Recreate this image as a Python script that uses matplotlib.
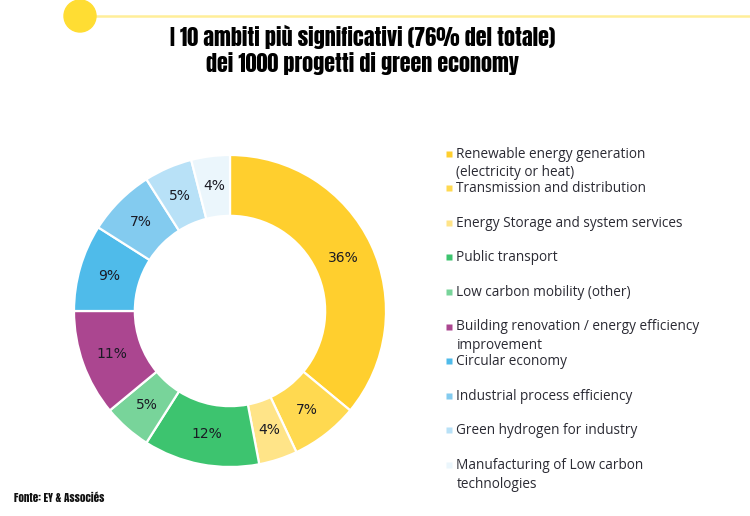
import matplotlib
matplotlib.use("Agg")
import matplotlib.pyplot as plt
from matplotlib.patches import Circle

W, H = 750, 516

categories = [
    "Renewable energy generation\n(electricity or heat)",
    "Transmission and distribution",
    "Energy Storage and system services",
    "Public transport",
    "Low carbon mobility (other)",
    "Building renovation / energy efficiency\nimprovement",
    "Circular economy",
    "Industrial process efficiency",
    "Green hydrogen for industry",
    "Manufacturing of Low carbon\ntechnologies",
]
shares = [36, 7, 4, 12, 5, 11, 9, 7, 5, 4]
colors = ["#FFCF2E", "#FFD950", "#FFE488", "#3DC46F", "#78D49A",
          "#AB4690", "#4FBBEA", "#83CBEF", "#B8E1F7", "#EBF6FC"]
title = "I 10 ambiti più significativi (76% del totale)\ndei 1000 progetti di green economy"
source = "Fonte: EY & Associés"

condensed = ["Anton", "Liberation Sans Narrow", "DejaVu Sans"]

fig = plt.figure(figsize=(W / 100, H / 100), dpi=100)

# overlay in pixel coordinates, y going down
bg = fig.add_axes([0, 0, 1, 1])
bg.set_xlim(0, W)
bg.set_ylim(H, 0)
bg.set_aspect("equal")
bg.axis("off")

bg.plot([90, W], [16, 16], color="#FFEE99", lw=1.8, solid_capstyle="butt")
bg.add_patch(Circle((80, 16), 16, color="#FFDD33", zorder=3))

bg.text(363, 49.5, title, ha="center", va="center", fontsize=15.9,
        family=condensed, color="black", linespacing=1.15)
bg.text(14, 498, source, ha="left", va="center", fontsize=7.9,
        family=condensed, color="#111111")

# legend, evenly spaced entries
for i, (name, c) in enumerate(zip(categories, colors)):
    y = 153.5 + i * 34.6
    bg.plot(449, y, marker="s", ms=4.2, color=c, mec="none", ls="none")
    bg.text(456.5, y - 7, name, ha="left", va="top", fontsize=9.85, family="Open Sans",
            color="#2a2a33", linespacing=1.36)

# donut
cx, cy, r = 230, 311, 156
box = 160
ax = fig.add_axes([(cx - box) / W, 1 - (cy + box) / H, 2 * box / W, 2 * box / H])
wedges, texts, pcts = ax.pie(
    shares, colors=colors, startangle=90, counterclock=False, radius=1,
    autopct="%.0f%%", pctdistance=0.805,
    wedgeprops=dict(width=0.39, edgecolor="white", linewidth=1.6),
    textprops=dict(fontsize=10, color="#1a1a24"),
)
ax.set_xlim(-box / r, box / r)
ax.set_ylim(-box / r, box / r)

fig.savefig("out.png", dpi=100)
